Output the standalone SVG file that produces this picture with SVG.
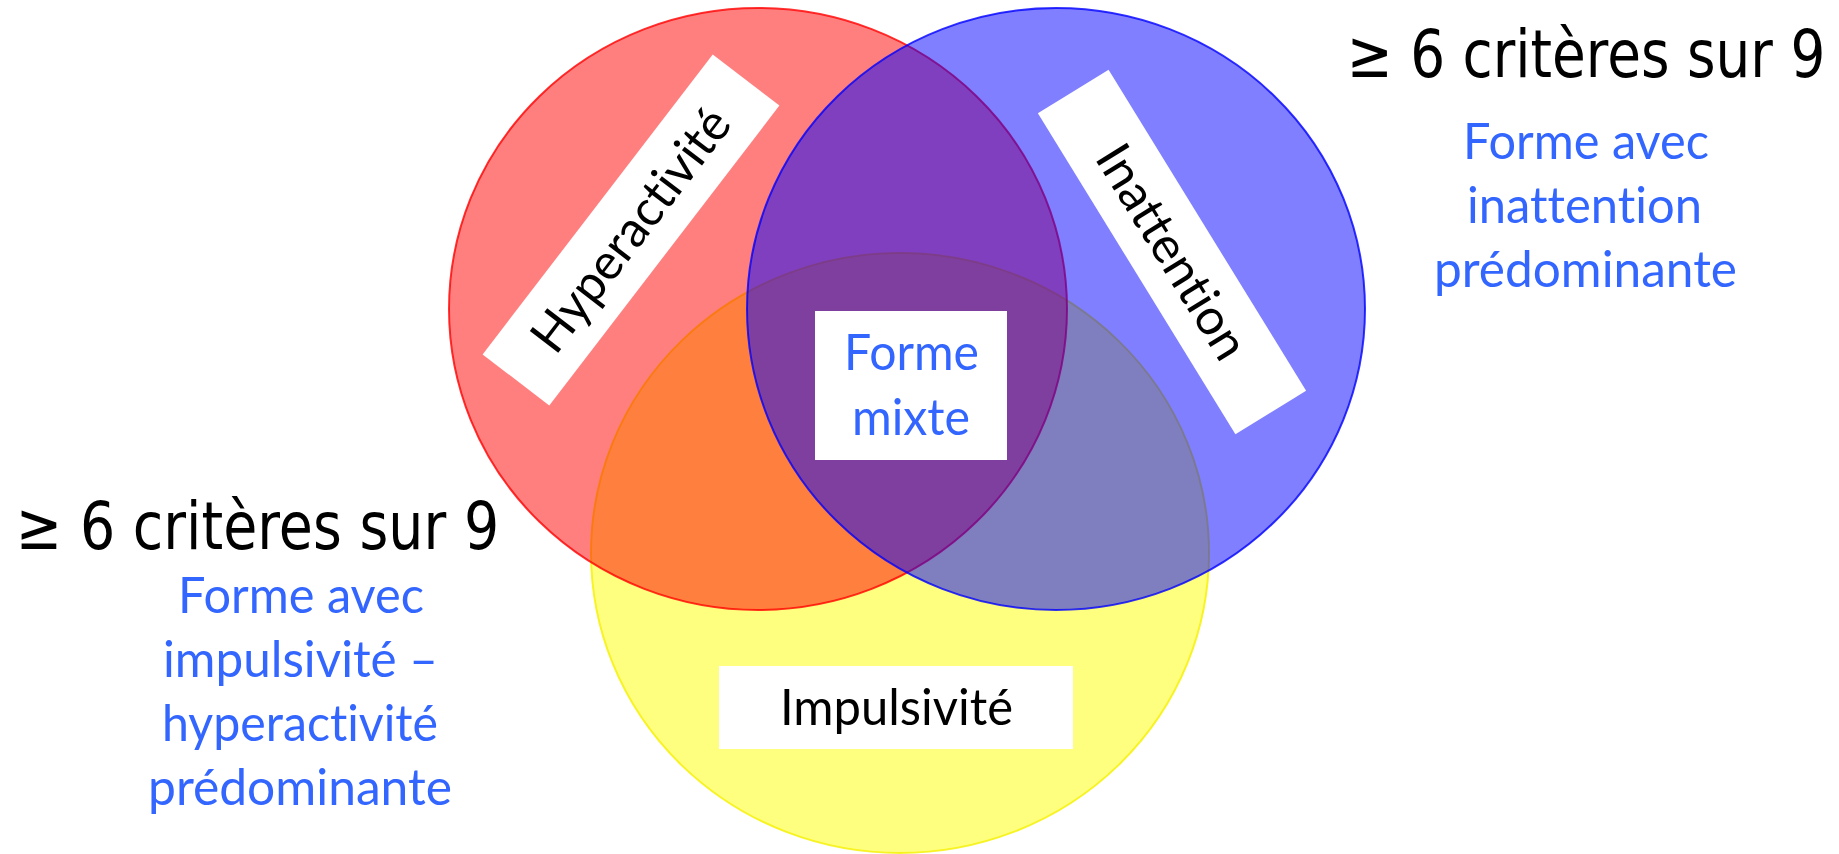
<svg xmlns="http://www.w3.org/2000/svg" width="1839" height="854" viewBox="0 0 1839 854">
  <style>
    .set { fill-opacity: 0.5; stroke-width: 2; stroke-opacity: 0.8; }
    .box { fill: #ffffff; }
    .lbl, .form { font-family: Lato, "Open Sans", "Liberation Sans", sans-serif; font-size: 50px; text-anchor: middle; font-variant-ligatures: none; font-feature-settings: "liga" 0, "clig" 0, "dlig" 0; }
    .lbl { fill: #000000; }
    .form { fill: #3366ff; }
    .crit { font-family: "DejaVu Sans", Verdana, sans-serif; font-size: 66px; fill: #000000; text-anchor: middle; }
  </style>
  <rect width="1839" height="854" fill="#ffffff"/>

  <!-- Venn sets: yellow underneath, red, then blue on top -->
  <g id="set-impulsivite">
    <ellipse class="set" cx="900" cy="553" rx="309" ry="300" fill="#ffff00" stroke="#f5f000"/>
  </g>
  <g id="set-hyperactivite">
    <ellipse class="set" cx="758" cy="309" rx="309" ry="301" fill="#ff0000" stroke="#ff0000"/>
  </g>
  <g id="set-inattention">
    <ellipse class="set" cx="1056" cy="309" rx="309" ry="301" fill="#0000ff" stroke="#0000ff"/>
  </g>

  <!-- set labels -->
  <g id="label-hyperactivite" transform="translate(631,230) rotate(-52.5)">
    <rect class="box" x="-189" y="-42" width="378" height="84"/>
    <text class="lbl" x="0" y="17" textLength="292" lengthAdjust="spacingAndGlyphs">Hyperactivité</text>
  </g>
  <g id="label-inattention" transform="translate(1172,252) rotate(58.4)">
    <rect class="box" x="-188.5" y="-41.5" width="377" height="83"/>
    <text class="lbl" x="0" y="17" textLength="242" lengthAdjust="spacingAndGlyphs">Inattention</text>
  </g>
  <g id="label-impulsivite">
    <rect class="box" x="719" y="666" width="354" height="83"/>
    <text class="lbl" x="896.5" y="725" textLength="233" lengthAdjust="spacingAndGlyphs">Impulsivité</text>
  </g>
  <g id="label-mixte">
    <rect class="box" x="815" y="311" width="192" height="149"/>
    <text class="form" x="911.5" y="370" textLength="135" lengthAdjust="spacingAndGlyphs">Forme</text>
    <text class="form" x="911" y="435" textLength="118" lengthAdjust="spacingAndGlyphs">mixte</text>
  </g>

  <!-- criteria notes (headings narrowed horizontally) -->
  <g id="note-inattention">
    <text class="crit" transform="translate(1586,77) scale(0.832,1)">≥ 6 critères sur 9</text>
    <text class="form" x="1586" y="159" textLength="246" lengthAdjust="spacingAndGlyphs">Forme avec</text>
    <text class="form" x="1584.5" y="223" textLength="235" lengthAdjust="spacingAndGlyphs">inattention</text>
    <text class="form" x="1585.5" y="287" textLength="303" lengthAdjust="spacingAndGlyphs">prédominante</text>
  </g>
  <g id="note-impulsivite">
    <text class="crit" transform="translate(257.5,549) scale(0.84,1)">≥ 6 critères sur 9</text>
    <text class="form" x="301" y="613" textLength="246" lengthAdjust="spacingAndGlyphs">Forme avec</text>
    <text class="form" x="300.5" y="677" textLength="275" lengthAdjust="spacingAndGlyphs">impulsivité –</text>
    <text class="form" x="300" y="741" textLength="276" lengthAdjust="spacingAndGlyphs">hyperactivité</text>
    <text class="form" x="300" y="805" textLength="304" lengthAdjust="spacingAndGlyphs">prédominante</text>
  </g>
</svg>
